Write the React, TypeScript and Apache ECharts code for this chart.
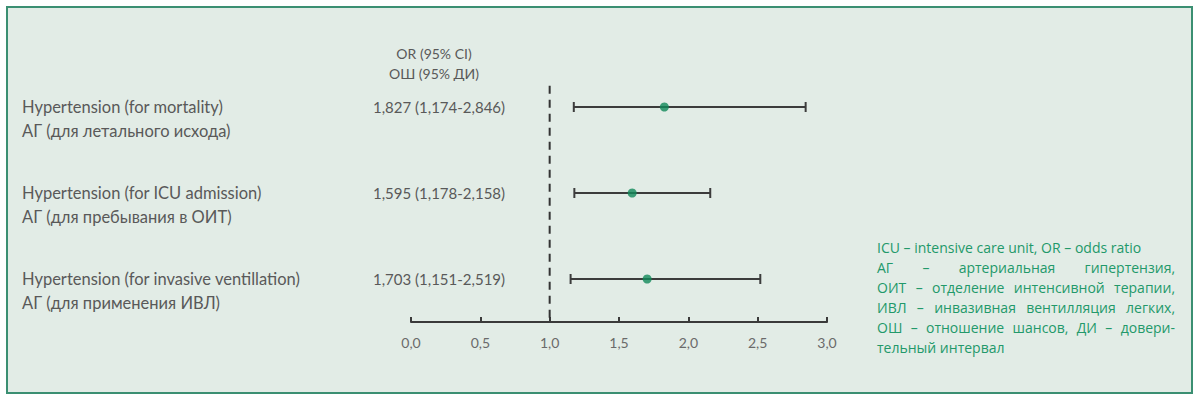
import React, { useEffect, useRef } from "react";
import * as echarts from "echarts";

const labelsEn = [
  "Hypertension (for mortality)",
  "Hypertension (for ICU admission)",
  "Hypertension (for invasive ventillation)",
];
const labelsRu = [
  "АГ (для летального исхода)",
  "АГ (для пребывания в ОИТ)",
  "АГ (для применения ИВЛ)",
];
const orValues = [1.827, 1.595, 1.703];
const ciLow = [1.174, 1.178, 1.151];
const ciHigh = [2.846, 2.158, 2.519];
const ciText = ["1,827 (1,174-2,846)", "1,595 (1,178-2,158)", "1,703 (1,151-2,519)"];
const headerLines = ["OR (95% CI)", "ОШ (95% ДИ)"];
const refLine = { x: 1, from: 0.05, to: 2.78 };
const footnoteLines = [
  { text: "ICU – intensive care unit, OR – odds ratio", justify: false },
  { text: "АГ – артериальная гипертензия,", justify: true },
  { text: "ОИТ – отделение интенсивной терапии,", justify: true },
  { text: "ИВЛ – инвазивная вентилляция легких,", justify: true },
  { text: "ОШ – отношение шансов, ДИ – довери-", justify: true },
  { text: "тельный интервал", justify: false },
];

const LABEL_FONT = "Lato";
const NOTE_FONT = "Open Sans";
const GRAY = "#595959";
const GREEN_TEXT = "#22996a";

export default function App() {
  const ref = useRef<HTMLDivElement>(null);
  useEffect(() => {
    document.body.style.margin = "0";
    const chart = echarts.init(ref.current!, null, { renderer: "svg" });
    const n = labelsEn.length;
    const rowY = (i: number) => n - i - 0.5;

    chart.setOption({
      animation: false,
      backgroundColor: "#ffffff",
      grid: { left: 411, right: 373, top: 64, bottom: 77 },
      xAxis: {
        type: "value",
        min: 0,
        max: 3,
        interval: 0.5,
        splitLine: { show: false },
        axisLine: { show: true, lineStyle: { color: "#3a3a3a", width: 2 } },
        axisTick: { show: true, inside: true, length: 5, lineStyle: { color: "#3a3a3a", width: 2 } },
        axisLabel: {
          margin: 13,
          color: "#6a6a6a",
          fontFamily: LABEL_FONT,
          fontSize: 14,
          formatter: (v: number) => v.toFixed(1).replace(".", ","),
        },
      },
      yAxis: { type: "value", min: 0, max: n, show: false },
      series: [],
    });

    const px = (x: number, y: number) => chart.convertToPixel({ gridIndex: 0 }, [x, y]) as number[];

    const canvas = document.createElement("canvas");
    const ctx = canvas.getContext("2d")!;
    const noteSize = 14;
    ctx.font = `${noteSize}px "${NOTE_FONT}"`;
    const noteX = 877;
    const noteRight = 1175;
    const noteY0 = 247;
    const noteStep = 20;

    const graphics: any[] = [
      {
        type: "rect",
        shape: { x: 7, y: 7, width: 1185, height: 386 },
        style: { fill: "#e2ece6", stroke: "#3b8f72", lineWidth: 2 },
        z: -10,
        silent: true,
      },
    ];

    headerLines.forEach((t, k) => {
      graphics.push({
        type: "text",
        x: 434,
        y: 53 + k * 20,
        style: { text: t, fill: GRAY, font: `14px "${LABEL_FONT}"`, textAlign: "center", textVerticalAlign: "middle" },
      });
    });

    for (let i = 0; i < n; i++) {
      const [, y] = px(0, rowY(i));
      graphics.push({
        type: "text",
        x: 22,
        y: y,
        style: { text: labelsEn[i], fill: GRAY, font: `16.5px "${LABEL_FONT}"`, textVerticalAlign: "middle" },
      });
      graphics.push({
        type: "text",
        x: 22,
        y: y + 24,
        style: { text: labelsRu[i], fill: GRAY, font: `16.5px "${LABEL_FONT}"`, textVerticalAlign: "middle" },
      });
      graphics.push({
        type: "text",
        x: 373,
        y: y,
        style: { text: ciText[i], fill: GRAY, font: `15px "${LABEL_FONT}"`, textVerticalAlign: "middle" },
      });
    }

    footnoteLines.forEach((line, k) => {
      const y = noteY0 + k * noteStep;
      if (!line.justify) {
        graphics.push({
          type: "text",
          x: noteX,
          y,
          style: { text: line.text, fill: GREEN_TEXT, font: `${noteSize}px "${NOTE_FONT}"`, textVerticalAlign: "middle" },
        });
        return;
      }
      const words = line.text.split(" ");
      const widths = words.map((w) => ctx.measureText(w).width);
      const total = widths.reduce((a, b) => a + b, 0);
      const gap = (noteRight - noteX - total) / (words.length - 1);
      let cx = noteX;
      words.forEach((w, j) => {
        graphics.push({
          type: "text",
          x: cx,
          y,
          style: { text: w, fill: GREEN_TEXT, font: `${noteSize}px "${NOTE_FONT}"`, textVerticalAlign: "middle" },
        });
        cx += widths[j] + gap;
      });
    });

    const barData = orValues.map((_, i) => [ciLow[i], ciHigh[i], rowY(i)]);
    const pointData = orValues.map((v, i) => [v, rowY(i)]);

    chart.setOption({
      graphic: graphics,
      series: [
        {
          type: "line",
          data: [
            [refLine.x, refLine.from],
            [refLine.x, refLine.to],
          ],
          symbol: "none",
          lineStyle: { color: "#333333", width: 2, type: [8, 6] },
          silent: true,
          z: 2,
        },
        {
          type: "custom",
          data: barData,
          renderItem: (params: any, api: any) => {
            const lo = api.coord([api.value(0), api.value(2)]);
            const hi = api.coord([api.value(1), api.value(2)]);
            const st = { stroke: "#3c3c3c", lineWidth: 2 };
            return {
              type: "group",
              children: [
                { type: "line", shape: { x1: lo[0], y1: lo[1], x2: hi[0], y2: hi[1] }, style: st },
                { type: "line", shape: { x1: lo[0], y1: lo[1] - 5, x2: lo[0], y2: lo[1] + 5 }, style: st },
                { type: "line", shape: { x1: hi[0], y1: hi[1] - 5, x2: hi[0], y2: hi[1] + 5 }, style: st },
              ],
            };
          },
          z: 3,
        },
        {
          type: "scatter",
          data: pointData,
          symbolSize: 9,
          itemStyle: { color: "#11895a" },
          z: 4,
        },
      ],
    });

    return () => chart.dispose();
  }, []);
  return <div ref={ref} style={{ width: 1200, height: 399 }} />;
}
